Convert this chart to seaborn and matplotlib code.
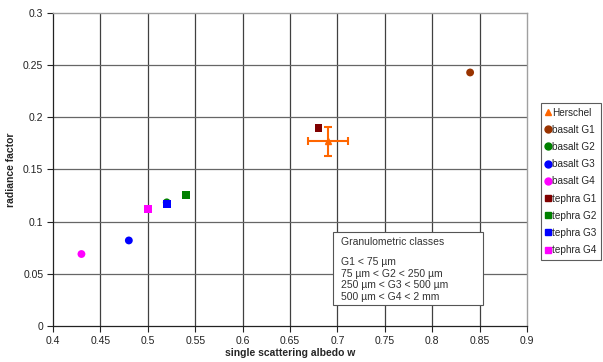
"""Radiance factor vs single scattering albedo for basalt/tephra grain classes."""

import matplotlib
matplotlib.use("Agg")
import matplotlib.pyplot as plt
import numpy as np
import pandas as pd
import seaborn as sns
from matplotlib.patches import Rectangle
from matplotlib.ticker import FuncFormatter, MultipleLocator

# Herschel measurement with error bars
HERSCHEL_W = 0.69
HERSCHEL_R = 0.177
HERSCHEL_WERR = 0.021
HERSCHEL_RERR = 0.014

SAMPLE_LABELS = [
    "basalt G1", "basalt G2", "basalt G3", "basalt G4",
    "tephra G1", "tephra G2", "tephra G3", "tephra G4",
]
SAMPLE_W = [0.84, 0.52, 0.48, 0.43, 0.68, 0.54, 0.52, 0.50]
SAMPLE_R = [0.243, 0.1185, 0.082, 0.069, 0.190, 0.1253, 0.117, 0.1125]
SAMPLE_COLORS = [
    "#993300", "#008000", "#0000FF", "#FF00FF",
    "#800000", "#008000", "#0000FF", "#FF00FF",
]

NOTE_TITLE = "Granulometric classes"
NOTE_LINES = [
    "G1 < 75 µm",
    "75 µm < G2 < 250 µm",
    "250 µm < G3 < 500 µm",
    "500 µm < G4 < 2 mm",
]

sns.set_style("white")
plt.rcParams["font.family"] = ["Liberation Sans", "DejaVu Sans"]

df = pd.DataFrame({"w": SAMPLE_W, "r": SAMPLE_R, "sample": SAMPLE_LABELS})
df["material"] = df["sample"].str.split().str[0]

fig = plt.figure(figsize=(6.03, 3.62), dpi=100)
fig.patch.set_facecolor("white")
ax = fig.add_axes([53 / 603, 1 - 326 / 362, 474 / 603, 313 / 362])

# grid first, underneath everything
for x in np.arange(0.45, 0.9, 0.05):
    ax.axvline(x, color="#404040", lw=0.9, zorder=0)
for y in np.arange(0.05, 0.3, 0.05):
    ax.axhline(y, color="#666666", lw=0.9, zorder=0)

ax.errorbar(
    HERSCHEL_W, HERSCHEL_R, xerr=HERSCHEL_WERR, yerr=HERSCHEL_RERR,
    fmt="^", color="#FF6600", ms=5, lw=1.5, capsize=3, capthick=1.5,
    label="Herschel", zorder=3,
)

palette = dict(zip(SAMPLE_LABELS, SAMPLE_COLORS))
sns.scatterplot(
    data=df, x="w", y="r", hue="sample", style="material",
    markers={"basalt": "o", "tephra": "s"}, palette=palette,
    s=32, linewidth=0, ax=ax, zorder=4, legend=False,
)

ax.set_xlim(0.4, 0.9)
ax.set_ylim(0, 0.3)
ax.xaxis.set_major_locator(MultipleLocator(0.05))
ax.yaxis.set_major_locator(MultipleLocator(0.05))
fmt = FuncFormatter(lambda v, _: f"{v:.2f}".rstrip("0").rstrip("."))
ax.xaxis.set_major_formatter(fmt)
ax.yaxis.set_major_formatter(fmt)
ax.tick_params(direction="out", length=4, width=0.8, labelsize=7.5,
               colors="#222222", pad=3, left=True, bottom=True)

for side in ("left", "bottom"):
    ax.spines[side].set_color("#222222")
    ax.spines[side].set_linewidth(0.9)
for side in ("top", "right"):
    ax.spines[side].set_color("#a0a0a0")
    ax.spines[side].set_linewidth(1.0)

ax.set_xlabel("single scattering albedo w", fontsize=7.5, fontweight="bold", labelpad=2)
ax.set_ylabel("radiance factor", fontsize=7.5, fontweight="bold", labelpad=5)

# note box with the grain size classes (axes fraction coords)
box_x0, box_x1 = (333 - 53) / 474, (483 - 53) / 474
box_y0, box_y1 = (326 - 305) / 313, (326 - 232) / 313
ax.add_patch(Rectangle(
    (box_x0, box_y0), box_x1 - box_x0, box_y1 - box_y0, transform=ax.transAxes,
    facecolor="white", edgecolor="#555555", linewidth=0.8, zorder=5,
))
ax.text(box_x0 + 8 / 474, box_y1 - 5 / 313, NOTE_TITLE, transform=ax.transAxes,
        fontsize=7.5, color="#333333", ha="left", va="top", zorder=6)
ax.text(box_x0 + 8 / 474, box_y1 - 25 / 313, "\n".join(NOTE_LINES),
        transform=ax.transAxes, fontsize=7.5, color="#333333", ha="left",
        va="top", linespacing=1.2, zorder=6)

# legend handles: Herschel triangle then the samples
handles = [plt.Line2D([], [], marker="^", ls="", color="#FF6600", ms=5)]
for lab, col in zip(SAMPLE_LABELS, SAMPLE_COLORS):
    mk = "o" if lab.startswith("basalt") else "s"
    handles.append(plt.Line2D([], [], marker=mk, ls="", color=col, ms=5))
labels = ["Herschel"] + SAMPLE_LABELS
leg = fig.legend(
    handles, labels, loc="upper left",
    bbox_to_anchor=(541 / 603, 1 - 103 / 362),
    fontsize=7.2, frameon=True, fancybox=False, handlelength=0.5,
    handletextpad=0.15, borderpad=0.45, labelspacing=0.72, borderaxespad=0,
)
leg.get_frame().set_edgecolor("#333333")
leg.get_frame().set_linewidth(0.8)

fig.savefig("out.png", dpi=100, facecolor="white")
plt.close(fig)
